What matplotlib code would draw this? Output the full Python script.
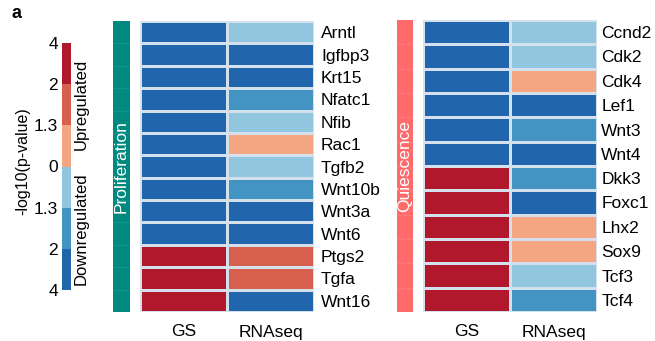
import numpy as np
import matplotlib
matplotlib.use("Agg")
from matplotlib import pyplot as plt
from matplotlib.colors import ListedColormap, BoundaryNorm

plt.rcParams['font.family'] = ['Liberation Sans', 'DejaVu Sans']

# levels: -3 strong down, -2 down, -1 weak down, 1 weak up, 2 up, 3 strong up
prolif_genes = ["Arntl", "Igfbp3", "Krt15", "Nfatc1", "Nfib", "Rac1", "Tgfb2",
                "Wnt10b", "Wnt3a", "Wnt6", "Ptgs2", "Tgfa", "Wnt16"]
prolif_gs = [-3, -3, -3, -3, -3, -3, -3, -3, -3, -3, 3, 3, 3]
prolif_rna = [-1, -3, -3, -2, -1, 1, -1, -2, -3, -3, 2, 2, -3]

quies_genes = ["Ccnd2", "Cdk2", "Cdk4", "Lef1", "Wnt3", "Wnt4", "Dkk3",
               "Foxc1", "Lhx2", "Sox9", "Tcf3", "Tcf4"]
quies_gs = [-3, -3, -3, -3, -3, -3, 3, 3, 3, 3, 3, 3]
quies_rna = [-1, -1, 1, -3, -2, -3, -2, -3, 1, 1, -1, -2]

columns = ["GS", "RNAseq"]
cbar_levels = [3, 2, 1, -1, -2, -3]
cbar_ticks = ["4", "2", "1.3", "0", "1.3", "2", "4"]

colors = ['#2166ac', '#4393c3', '#92c5de', '#f4a582', '#d6604d', '#b2182b']
cmap = ListedColormap(colors)
norm = BoundaryNorm([-3.5, -2.5, -1.5, 0, 1.5, 2.5, 3.5], cmap.N)

W, H = 655, 341
fig = plt.figure(figsize=(W / 100, H / 100), dpi=100)


def box(x0, y0, x1, y1):
    return [x0 / W, 1 - y1 / H, (x1 - x0) / W, (y1 - y0) / H]


def heatmap(rect, genes, gs, rna, pad):
    ax = fig.add_axes(rect)
    data = np.array([gs, rna]).T
    ax.pcolormesh(data, cmap=cmap, norm=norm, edgecolors='#d4e0ec', linewidth=1)
    ax.set_ylim(len(genes), 0)
    ax.set_xlim(0, 2)
    ax.yaxis.tick_right()
    ax.set_yticks(np.arange(len(genes)) + 0.5)
    ax.set_yticklabels(genes, fontsize=12.5)
    ax.set_xticks([0.5, 1.5])
    ax.set_xticklabels(columns, fontsize=12.5)
    ax.tick_params(length=0)
    ax.tick_params(axis='y', pad=pad)
    ax.tick_params(axis='x', pad=9)
    for s in ax.spines.values():
        s.set_visible(False)
    return ax


def side_bar(rect, color, label, n):
    ax = fig.add_axes(rect)
    ax.set_facecolor(color)
    for i in range(1, n):
        ax.axhline(i / n, color='white', alpha=0.08, lw=1)
    ax.set_xticks([])
    ax.set_yticks([])
    for s in ax.spines.values():
        s.set_visible(False)
    ax.text(0.5, 0.5, label, rotation=90, color='white', fontsize=12.5,
            ha='center', va='center', transform=ax.transAxes)


heatmap(box(140, 21, 314, 312), prolif_genes, prolif_gs, prolif_rna, 5)
heatmap(box(423, 20, 597, 312), quies_genes, quies_gs, quies_rna, 3)
side_bar(box(113, 21, 130, 312), '#00897e', 'Proliferation', len(prolif_genes))
side_bar(box(397, 20, 413, 312), '#ff6b6b', 'Quiescence', len(quies_genes))

# colour key
cax = fig.add_axes(box(62, 43, 71, 290))
cax.pcolormesh(np.array([cbar_levels]).T, cmap=cmap, norm=norm)
cax.set_ylim(len(cbar_levels), 0)
cax.set_xticks([])
cax.set_yticks(np.arange(len(cbar_ticks)))
cax.set_yticklabels(cbar_ticks, fontsize=12.5)
cax.tick_params(length=0, pad=3)
for s in cax.spines.values():
    s.set_visible(False)
cax.text(-4.4, 0.52, '-log10(p-value)', rotation=90, fontsize=11.5,
         ha='center', va='center', transform=cax.transAxes)
cax.text(2.15, 0.75, 'Upregulated', rotation=90, fontsize=12,
         ha='center', va='center', transform=cax.transAxes)
cax.text(2.15, 0.25, 'Downregulated', rotation=90, fontsize=12,
         ha='center', va='center', transform=cax.transAxes)

fig.text(12 / W, 1 - 14 / H, 'a', fontsize=13, fontweight='bold', va='center')

fig.savefig('out.png', dpi=100)
